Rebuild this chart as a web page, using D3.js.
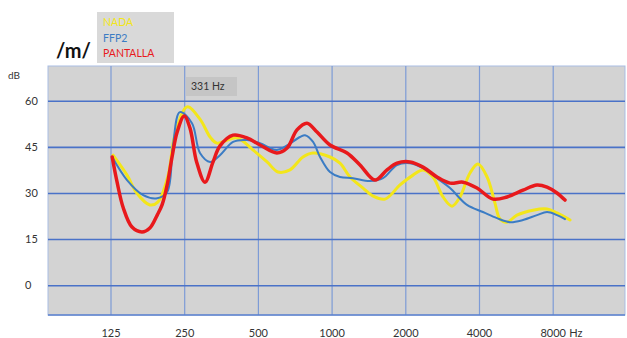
<!DOCTYPE html>
<html lang="es">
<head>
  <meta charset="UTF-8">
  <title>/m/</title>
  <style>
    * { padding: 0; margin: 0; }
    html, body { width: 627px; height: 338px; overflow: hidden; background: #fff; }
    text { font-family: Lato, "Open Sans", sans-serif; }
  </style>
</head>
<body>
  <script src="https://cdn.jsdelivr.net/npm/d3@7"></script>
  <script>
    // valores (Hz, dB)
    const nadaHz = [128, 146, 160, 181, 195, 215, 229, 257, 290, 319, 340, 411, 477, 545, 604, 676, 764, 840, 985, 1082, 1189, 1344, 1476, 1653, 1903, 2150, 2362, 2595, 2852, 3104, 3345, 3675, 3962, 4316, 4648, 4873, 5206, 5718, 6650, 7586, 8330, 9416]
    const nadaDb = [42.3, 35.8, 30.0, 26.1, 27.0, 35.8, 48.8, 58.0, 54.0, 48.2, 46.2, 47.9, 44.0, 40.1, 36.8, 37.5, 41.7, 43.0, 41.7, 39.7, 35.2, 31.6, 29.0, 28.0, 32.6, 35.8, 37.5, 35.2, 28.7, 25.7, 28.7, 36.5, 39.4, 35.2, 26.7, 21.5, 20.5, 22.8, 24.4, 24.8, 23.5, 21.2]

    const ffp2Hz = [127, 146, 170, 194, 213, 225, 240, 269, 290, 319, 350, 396, 451, 510, 598, 743, 779, 840, 897, 985, 1082, 1223, 1435, 1621, 1850, 2090, 2362, 2695, 3046, 3573, 4152, 4737, 5356, 6050, 6902, 7586, 8330, 8980]
    const ffp2Db = [41.7, 34.2, 29.3, 28.3, 30.3, 45.6, 56.3, 52.7, 43.0, 40.1, 42.3, 46.6, 47.2, 46.2, 44.0, 48.2, 48.8, 46.6, 41.7, 36.8, 35.2, 34.8, 33.9, 34.8, 39.1, 39.7, 38.1, 34.8, 31.6, 26.1, 23.8, 21.8, 20.5, 21.2, 22.8, 23.8, 22.8, 21.5]

    const pantallaHz = [127, 133, 141, 153, 168, 181, 194, 203, 213, 223, 234, 250, 264, 281, 304, 328, 350, 396, 451, 510, 598, 658, 722, 793, 872, 985, 1156, 1306, 1504, 1684, 1850, 2090, 2362, 2695, 3046, 3441, 3925, 4564, 5206, 6050, 6902, 7586, 8330, 8981]
    const pantallaDb = [41.7, 33.5, 25.1, 18.9, 17.3, 18.6, 22.8, 26.1, 32.6, 41.7, 49.8, 55.0, 51.1, 40.1, 33.5, 40.1, 45.3, 48.8, 47.9, 45.6, 43.0, 44.6, 50.5, 52.7, 49.8, 45.6, 43.0, 39.1, 34.2, 37.5, 39.7, 40.1, 38.4, 35.2, 33.2, 33.5, 31.6, 28.0, 28.7, 30.9, 32.6, 31.9, 30.0, 27.7]

    const xTicks = [125, 250, 500, 1000, 2000, 4000, 8000]
    const yTicks = [0, 15, 30, 45, 60]
    const seriesNames = ['NADA', 'FFP2', 'PANTALLA']
    const seriesColors = ['#f3e61a', '#3b7cc4', '#e8191c']
    const seriesWidths = [3, 2, 3.5]

    const width = 627, height = 338
    const plot = { left: 48, top: 66, right: 625, bottom: 315 }

    const svg = d3.select('body').append('svg').attr('width', width).attr('height', height)

    const x = d3.scaleLog().base(2).domain([125, 8000]).range([110.5, 552.7])
    const y = d3.scaleLinear().domain([-9.7, 71.3]).range([plot.bottom, plot.top])

    // fondo gris del area
    svg.append('rect')
      .attr('x', plot.left).attr('y', plot.top)
      .attr('width', plot.right - plot.left).attr('height', plot.bottom - plot.top)
      .attr('fill', '#d3d3d3').attr('stroke', '#a9bde3').attr('stroke-width', 1)

    // rejilla vertical y etiquetas de frecuencia
    const xAxis = svg.append('g').attr('transform', `translate(0, ${plot.bottom})`)
      .call(d3.axisBottom(x).tickValues(xTicks).tickSize(-(plot.bottom - plot.top)).tickPadding(14)
        .tickFormat(d => d))
    xAxis.select('.domain').remove()
    xAxis.selectAll('line').attr('stroke', '#7d9bd6').attr('stroke-width', 1.2)
    xAxis.selectAll('text').attr('font-size', 11).attr('fill', '#333')
      .attr('font-family', 'Lato, sans-serif')
    xAxis.selectAll('.tick').filter(d => d === 8000).append('text')
      .attr('x', 16).attr('y', 14).attr('dy', '0.71em').attr('text-anchor', 'start')
      .attr('font-size', 11).attr('fill', '#333').text('Hz')

    // linea de base
    svg.append('line')
      .attr('x1', plot.left).attr('x2', plot.right)
      .attr('y1', plot.bottom).attr('y2', plot.bottom)
      .attr('stroke', '#5b80cc').attr('stroke-width', 1.5)

    // rejilla horizontal
    const yAxis = svg.append('g').attr('transform', `translate(${plot.left}, 0)`)
      .call(d3.axisLeft(y).tickValues(yTicks).tickSize(-(plot.right - plot.left)).tickFormat(''))
    yAxis.select('.domain').remove()
    yAxis.selectAll('line').attr('stroke', '#4a72c8').attr('stroke-width', 1.6)

    yTicks.forEach(t => {
      svg.append('text').attr('x', 25).attr('y', y(t)).attr('dy', '0.35em')
        .attr('font-size', 11).attr('fill', '#333').text(t)
    })
    svg.append('text').attr('x', 8).attr('y', 79).attr('font-size', 10).attr('fill', '#333').text('dB')

    // curvas
    const line = d3.line().x(d => x(d[0])).y(d => y(d[1])).curve(d3.curveCatmullRom.alpha(0.5))
    const series = [
      d3.zip(nadaHz, nadaDb),
      d3.zip(ffp2Hz, ffp2Db),
      d3.zip(pantallaHz, pantallaDb)
    ]
    // orden de dibujo: amarillo, azul, rojo encima
    series.forEach((s, i) => {
      svg.append('path').datum(s)
        .attr('d', line)
        .attr('fill', 'none')
        .attr('stroke', seriesColors[i])
        .attr('stroke-width', seriesWidths[i])
        .attr('stroke-linecap', 'round')
        .attr('stroke-linejoin', 'round')
    })

    // etiqueta 331 Hz
    svg.append('rect').attr('x', 186).attr('y', 77).attr('width', 51).attr('height', 19).attr('fill', '#c5c5c5')
    svg.append('text').attr('x', 191).attr('y', 86.5).attr('dy', '0.35em')
      .attr('font-size', 10.5).attr('fill', '#333').text('331 Hz')

    // titulo
    svg.append('text').attr('x', 56).attr('y', 58)
      .attr('font-size', 20).attr('font-weight', 'bold').attr('fill', '#111').text('/m/')

    // leyenda
    svg.append('rect').attr('x', 97).attr('y', 12).attr('width', 77).attr('height', 51).attr('fill', '#d9d9d9')
    seriesNames.forEach((n, i) => {
      svg.append('text').attr('x', 103).attr('y', 22.7 + i * 15.3).attr('dy', '0.35em')
        .attr('font-size', 10.5).attr('fill', seriesColors[i]).text(n)
    })
  </script>
</body>
</html>
